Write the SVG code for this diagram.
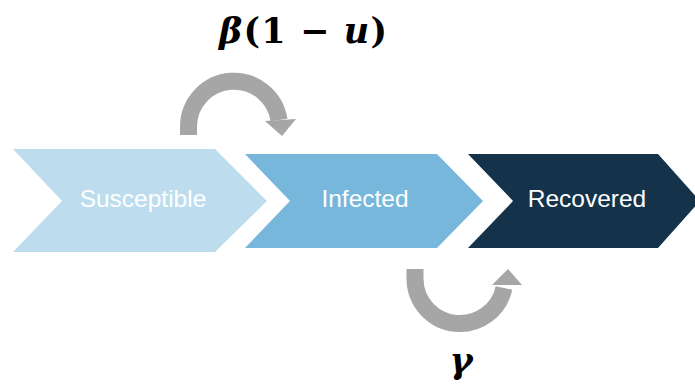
<svg xmlns="http://www.w3.org/2000/svg" width="695" height="385" viewBox="0 0 695 385">
<style>
.lbl{font-family:"Liberation Sans",Arial,sans-serif;font-size:24.5px;fill:#ffffff;text-anchor:middle}
.math{font-family:"DejaVu Serif","Liberation Serif",serif;font-weight:bold;fill:#000000;font-size:35px}
.it{font-style:italic}
.arc{fill:none;stroke:#A6A6A6;stroke-width:17}
.head{fill:#A6A6A6}
</style>
<rect width="695" height="385" fill="#ffffff"/>
<g id="susceptible">
<polygon points="13,149 215,149 267,201 215,252 13,252 62,201" fill="#BDDDEF"/>
<text class="lbl" x="143" y="207">Susceptible</text>
</g>
<g id="infected">
<polygon points="245,154 437,154 483,201 437,248 245,248 290,201" fill="#78B7DC"/>
<text class="lbl" x="365" y="207">Infected</text>
</g>
<g id="recovered">
<polygon points="468,154 658,154 700,201 658,248 468,248 513,201" fill="#143249"/>
<text class="lbl" x="587" y="207">Recovered</text>
</g>
<g id="connectors">
<path class="arc" d="M188.5,135 V126 A45.5,45.5 0 0 1 279,120"/>
<polygon class="head" points="265,121 296,119 282,136"/>
<path class="arc" d="M415,269 V279 A45,45 0 0 0 504,288"/>
<polygon class="head" points="492,285 522,285 508,269"/>
</g>
<g id="labels">
<text class="math" x="219" y="43" textLength="168" lengthAdjust="spacing"><tspan class="it">β</tspan>(1 − <tspan class="it">u</tspan>)</text>
<text class="math it" x="461" y="373" font-size="36" text-anchor="middle">γ</text>
</g>
</svg>
